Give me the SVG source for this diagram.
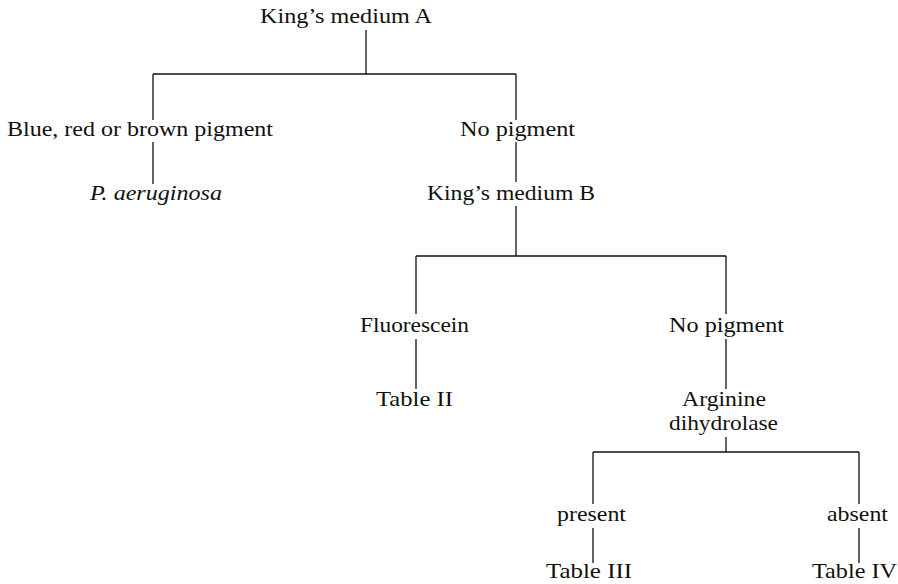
<svg xmlns="http://www.w3.org/2000/svg" width="898" height="584" viewBox="0 0 898 584">
<style>
text{font-family:"Liberation Serif","Times New Roman",serif;font-size:21px;fill:#111}
.it{font-style:italic}
#connectors line{stroke:#111;stroke-width:1.3;fill:none}
</style>
<rect width="898" height="584" fill="#fff"/>
<g id="connectors">
<line x1="366" y1="30" x2="366" y2="74"/>
<line x1="153" y1="74" x2="516" y2="74"/>
<line x1="153" y1="74" x2="153" y2="120"/>
<line x1="153" y1="142" x2="153" y2="184"/>
<line x1="516" y1="74" x2="516" y2="120"/>
<line x1="516" y1="142" x2="516" y2="182"/>
<line x1="516" y1="206" x2="516" y2="256"/>
<line x1="416" y1="256" x2="726" y2="256"/>
<line x1="416" y1="256" x2="416" y2="314"/>
<line x1="416" y1="339" x2="416" y2="389"/>
<line x1="726" y1="256" x2="726" y2="314"/>
<line x1="726" y1="339" x2="726" y2="389"/>
<line x1="726" y1="437" x2="726" y2="452"/>
<line x1="593" y1="452" x2="593" y2="504"/>
<line x1="593" y1="452" x2="859" y2="452"/>
<line x1="593" y1="528" x2="593" y2="563"/>
<line x1="859" y1="452" x2="859" y2="504"/>
<line x1="859" y1="528" x2="859" y2="563"/>
</g>
<g id="n-kingA"><text x="260" y="23" textLength="172" lengthAdjust="spacingAndGlyphs">King’s medium A</text></g>
<g id="n-pigment"><text x="7" y="136" textLength="266" lengthAdjust="spacingAndGlyphs">Blue, red or brown pigment</text></g>
<g id="n-nopig1"><text x="460" y="136" textLength="115" lengthAdjust="spacingAndGlyphs">No pigment</text></g>
<g id="n-paer"><text class="it" x="90" y="200" textLength="132" lengthAdjust="spacingAndGlyphs">P. aeruginosa</text></g>
<g id="n-kingB"><text x="427" y="200" textLength="168" lengthAdjust="spacingAndGlyphs">King’s medium B</text></g>
<g id="n-fluor"><text x="360" y="332" textLength="109" lengthAdjust="spacingAndGlyphs">Fluorescein</text></g>
<g id="n-nopig2"><text x="669" y="332" textLength="115" lengthAdjust="spacingAndGlyphs">No pigment</text></g>
<g id="n-table2"><text x="376" y="406" textLength="77" lengthAdjust="spacingAndGlyphs">Table II</text></g>
<g id="n-arg"><text x="682" y="406" textLength="84" lengthAdjust="spacingAndGlyphs">Arginine</text><text x="669" y="430" textLength="109" lengthAdjust="spacingAndGlyphs">dihydrolase</text></g>
<g id="n-present"><text x="557" y="521" textLength="69" lengthAdjust="spacingAndGlyphs">present</text></g>
<g id="n-absent"><text x="827" y="521" textLength="61" lengthAdjust="spacingAndGlyphs">absent</text></g>
<g id="n-table3"><text x="546" y="578" textLength="86" lengthAdjust="spacingAndGlyphs">Table III</text></g>
<g id="n-table4"><text x="812" y="578" textLength="85" lengthAdjust="spacingAndGlyphs">Table IV</text></g>
</svg>
